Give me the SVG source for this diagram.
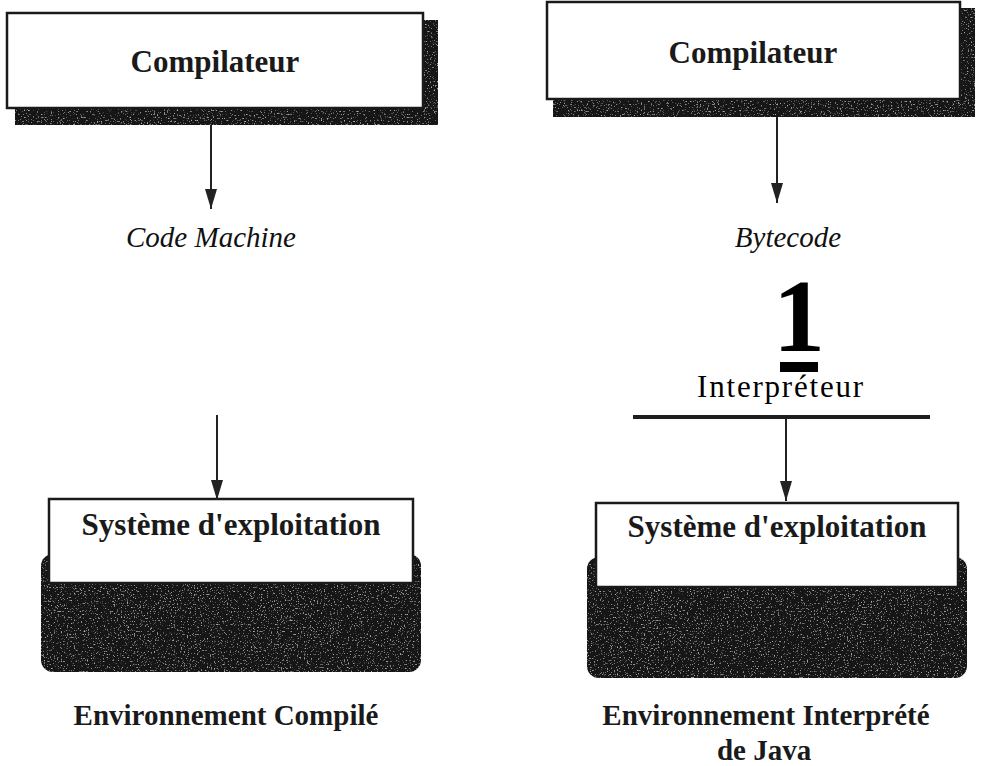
<svg xmlns="http://www.w3.org/2000/svg" width="982" height="766" viewBox="0 0 982 766">
  <style>
    .bg { fill: #ffffff; }
    .box { fill: #ffffff; stroke: #1a1a1a; stroke-width: 2.5; }
    .shade { fill: #161616; }
    .title { font-family: "Liberation Serif", "Times New Roman", serif; font-weight: bold; fill: #1a1a1a; }
    .label { font-family: "Liberation Serif", "Times New Roman", serif; font-style: italic; fill: #111; }
    .plain { font-family: "Liberation Serif", "Times New Roman", serif; fill: #000; }
    .wire { stroke: #222; stroke-width: 2; fill: none; }
  </style>
  <defs>
    <marker id="head" markerWidth="20" markerHeight="12" refX="20" refY="6" orient="auto" markerUnits="userSpaceOnUse" viewBox="0 0 20 12">
      <path d="M0,0 L20,6 L0,12 Z" fill="#222"/>
    </marker>
    <!-- speckled texture for the dark printed areas -->
    <filter id="grain" x="0" y="0" width="100%" height="100%">
      <feTurbulence type="fractalNoise" baseFrequency="0.7" numOctaves="2" seed="7" result="noise"/>
      <feColorMatrix in="noise" type="matrix" values="0 0 0 0 0.42  0 0 0 0 0.42  0 0 0 0 0.42  0 0 0 5 -3.1" result="spots"/>
      <feComposite in="spots" in2="SourceGraphic" operator="in" result="clipped"/>
      <feMerge>
        <feMergeNode in="SourceGraphic"/>
        <feMergeNode in="clipped"/>
      </feMerge>
    </filter>
  </defs>

  <rect class="bg" x="0" y="0" width="982" height="766"/>

  <!-- Left column: compiled environment -->
  <g id="compilateur-gauche">
    <rect class="shade" x="15" y="20" width="423" height="105" filter="url(#grain)"/>
    <rect class="box" x="7" y="13" width="416" height="95"/>
    <text class="title" x="215" y="72" font-size="31" text-anchor="middle">Compilateur</text>
  </g>

  <g id="code-machine">
    <text class="label" x="211" y="247" font-size="29" text-anchor="middle">Code Machine</text>
  </g>

  <g id="systeme-gauche">
    <rect class="shade" x="41" y="554" width="380" height="118" rx="12" ry="12" filter="url(#grain)"/>
    <rect class="box" x="49" y="499" width="364" height="84"/>
    <text class="title" x="231" y="535" font-size="31" text-anchor="middle">Système d'exploitation</text>
  </g>

  <g id="legende-gauche">
    <text class="title" x="226" y="725" font-size="29" text-anchor="middle" fill="#000">Environnement Compilé</text>
  </g>

  <!-- Right column: interpreted Java environment -->
  <g id="compilateur-droite">
    <rect class="shade" x="553" y="8" width="422" height="109" filter="url(#grain)"/>
    <rect class="box" x="547" y="2" width="413" height="97"/>
    <text class="title" x="753" y="63" font-size="31" text-anchor="middle">Compilateur</text>
  </g>

  <g id="bytecode">
    <text class="label" x="788" y="247" font-size="29" text-anchor="middle">Bytecode</text>
  </g>

  <g id="interpreteur">
    <text class="plain" x="799" y="351" font-size="104" font-weight="bold" text-anchor="middle">1</text>
    <rect x="780" y="362" width="38" height="10" fill="#000"/>
    <text class="plain" x="781" y="397" font-size="31" letter-spacing="1.8" text-anchor="middle">Interpréteur</text>
    <rect x="633" y="415" width="297" height="4" fill="#1e1e1e"/>
  </g>

  <g id="systeme-droite">
    <rect class="shade" x="587" y="557" width="380" height="121" rx="12" ry="12" filter="url(#grain)"/>
    <rect class="box" x="596" y="503" width="362" height="84"/>
    <text class="title" x="777" y="537" font-size="31" text-anchor="middle">Système d'exploitation</text>
  </g>

  <g id="legende-droite">
    <text class="title" x="766" y="725" font-size="29" text-anchor="middle" fill="#000">Environnement Interprété</text>
    <text class="title" x="764" y="760" font-size="29" text-anchor="middle" fill="#000">de Java</text>
  </g>

  <!-- Connectors -->
  <g id="connecteurs">
    <line class="wire" x1="211" y1="125" x2="211" y2="209" marker-end="url(#head)"/>
    <line class="wire" x1="217" y1="415" x2="217" y2="500" marker-end="url(#head)"/>
    <line class="wire" x1="777" y1="117" x2="777" y2="203" marker-end="url(#head)"/>
    <line class="wire" x1="786" y1="419" x2="786" y2="501" marker-end="url(#head)"/>
  </g>
</svg>
